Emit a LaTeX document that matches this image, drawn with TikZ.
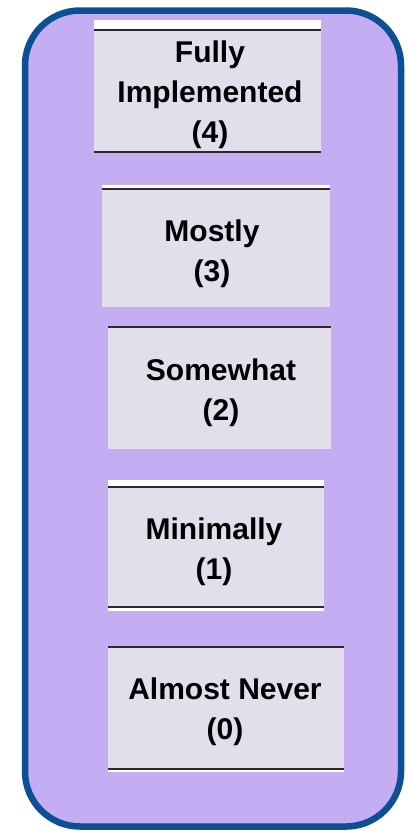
\documentclass[tikz,border=0pt]{standalone}
\usepackage{fontspec}
\setmainfont{Liberation Sans}
\definecolor{panelfill}{HTML}{C4ADF3}
\definecolor{panelborder}{HTML}{0B4F95}
\definecolor{boxfill}{HTML}{E3DEEB}
\definecolor{rulecol}{HTML}{2A2A2A}
\tikzset{
  levelbox/.style={fill=boxfill, draw=none, inner sep=0pt},
  leveltext/.style={align=center, font=\bfseries\fontsize{30}{40}\selectfont, text=black, inner sep=0pt},
  boxrule/.style={draw=rulecol, line width=2pt},
  whitestrip/.style={fill=white, draw=none}
}
\begin{document}
\begin{tikzpicture}[x=1pt,y=-1pt]
\useasboundingbox (0,0) rectangle (408,831);
% outer panel
\draw[fill=panelfill, draw=panelborder, line width=6.5pt, rounded corners=55pt] (25,10.5) rectangle (401,826.5);

% box 1
\fill[whitestrip] (94,20) rectangle (321,30);
\node[levelbox, minimum width=227pt, minimum height=122pt] (b1) at (207.5,91) {};
\draw[boxrule] (b1.north west) -- (b1.north east);
\draw[boxrule] (b1.south west) -- (b1.south east);
\node[leveltext] (t1) at (210,95) {Fully\\Implemented\\(4)};

% box 2
\fill[whitestrip] (102,185) rectangle (330,189);
\node[levelbox, minimum width=228pt, minimum height=118pt] (b2) at (216,248) {};
\draw[boxrule] (b2.north west) -- (b2.north east);
\node[leveltext] (t2) at (212,254) {Mostly\\(3)};

% box 3
\node[levelbox, minimum width=223pt, minimum height=122pt] (b3) at (219.5,388) {};
\draw[boxrule] (b3.north west) -- (b3.north east);
\node[leveltext] (t3) at (221,393) {Somewhat\\(2)};

% box 4
\fill[whitestrip] (108,480) rectangle (324,487);
\fill[whitestrip] (108,607) rectangle (324,610.5);
\node[levelbox, minimum width=216pt, minimum height=120pt] (b4) at (216,547) {};
\draw[boxrule] (b4.north west) -- (b4.north east);
\draw[boxrule] (b4.south west) -- (b4.south east);
\node[leveltext] (t4) at (214,552) {Minimally\\(1)};

% box 5
\fill[whitestrip] (108,769) rectangle (344,771.5);
\node[levelbox, minimum width=236pt, minimum height=122pt] (b5) at (226,708) {};
\draw[boxrule] (b5.north west) -- (b5.north east);
\draw[boxrule] (b5.south west) -- (b5.south east);
\node[leveltext] (t5) at (225,712) {Almost Never\\(0)};
\end{tikzpicture}
\end{document}
